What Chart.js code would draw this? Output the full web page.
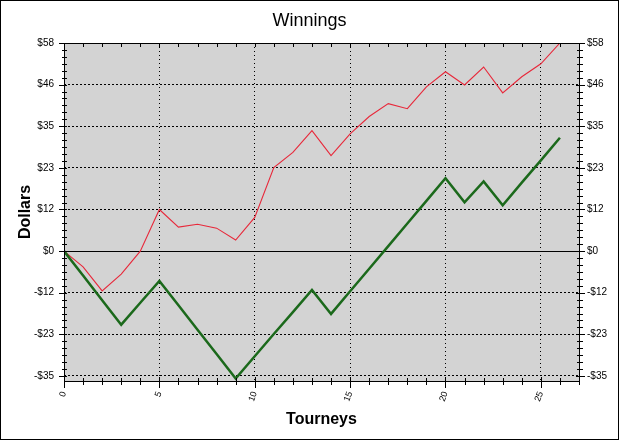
<!DOCTYPE html>
<html>
<head>
<meta charset="utf-8">
<title>Winnings</title>
<script src="https://cdn.jsdelivr.net/npm/chart.js@4/dist/chart.umd.min.js"></script>
<style>
  html, body { margin: 0; padding: 0; background: #fff; }
  canvas { display: block; }
</style>
</head>
<body>
<canvas id="chart" width="619" height="440"></canvas>
<script>
// --- Data ---
const tourneys = [0, 1, 2, 3, 4, 5, 6, 7, 8, 9, 10, 11, 12, 13, 14, 15, 16, 17, 18, 19, 20, 21, 22, 23, 24, 25, 26];
const redSeries = [0, -4.4, -11.1, -6.4, 0, 11.6, 6.7, 7.5, 6.4, 3.1, 9.4, 23.3, 27.5, 33.6, 26.6, 32.7, 37.5, 41.1, 39.7, 45.8, 50, 46.3, 51.3, 44.1, 48.6, 52.2, 58];
const greenSeries = [0, -6.8, -13.7, -20.5, -14.4, -8.3, -15.1, -21.9, -28.7, -35.5, -29.3, -23.1, -17.0, -10.8, -17.5, -11.2, -4.9, 1.4, 7.7, 14.0, 20.3, 13.6, 19.4, 12.8, 19.1, 25.3, 31.6];
const xTicks = [0, 5, 10, 15, 20, 25];
const yTicks = [-34.8, -23.2, -11.6, 0, 11.6, 23.2, 34.8, 46.4, 58];
const xMin = 0, xMax = 27, xMinorStep = 1;
const yMin = -36.2, yMax = 58, yMinorStep = 11.6 / 6;

const FONT = "'Liberation Sans', Arial, sans-serif";

function dollars(v) {
  let n = Math.abs(Math.round(v));
  return (v < 0 ? "-$" : "$") + n;
}

function crisp(p) {
  return Math.round(p) + 0.5;
}

// --- Background, frame, zero line and minor ticks ---
const framePlugin = {
  id: "frame",
  beforeDraw(chart) {
    let ctx = chart.ctx, a = chart.chartArea;
    ctx.save();
    ctx.fillStyle = "#ffffff";
    ctx.fillRect(0, 0, chart.width, chart.height);
    ctx.fillStyle = "#d3d3d3";
    ctx.fillRect(a.left, a.top, a.right - a.left, a.bottom - a.top);
    ctx.restore();
  },
  beforeDatasetsDraw(chart) {
    let ctx = chart.ctx, a = chart.chartArea;
    let y0 = crisp(chart.scales.y.getPixelForValue(0));
    ctx.save();
    ctx.strokeStyle = "#000";
    ctx.lineWidth = 1;
    ctx.beginPath();
    ctx.moveTo(a.left, y0);
    ctx.lineTo(a.right, y0);
    ctx.stroke();
    ctx.restore();
  },
  afterDraw(chart) {
    let ctx = chart.ctx, a = chart.chartArea;
    let sx = chart.scales.x, sy = chart.scales.y;
    let L = Math.round(a.left), R = Math.round(a.right), T = Math.round(a.top), B = Math.round(a.bottom);
    ctx.save();
    ctx.strokeStyle = "#000";
    ctx.lineWidth = 1;
    ctx.beginPath();
    // plot frame
    ctx.rect(L + 0.5, T + 0.5, R - L, B - T);
    // y minor + major ticks, both sides
    for (let v = yTicks[0]; v <= yMax + 0.001; v += yMinorStep) {
      let y = crisp(sy.getPixelForValue(v));
      ctx.moveTo(L - 2, y); ctx.lineTo(L + 3, y);
      ctx.moveTo(R - 2, y); ctx.lineTo(R + 4, y);
    }
    yTicks.forEach(v => {
      let y = crisp(sy.getPixelForValue(v));
      ctx.moveTo(L - 5, y); ctx.lineTo(L + 3, y);
      ctx.moveTo(R - 3, y); ctx.lineTo(R + 6, y);
    });
    // x minor + major ticks
    for (let v = xMin; v <= xMax; v += xMinorStep) {
      let x = crisp(sx.getPixelForValue(v));
      ctx.moveTo(x, B - 3); ctx.lineTo(x, B + 4);
      ctx.moveTo(x, T); ctx.lineTo(x, T + 4);
    }
    xTicks.forEach(v => {
      let x = crisp(sx.getPixelForValue(v));
      ctx.moveTo(x, B - 4); ctx.lineTo(x, B + 7);
    });
    ctx.stroke();
    // outer border
    ctx.strokeRect(0.5, 0.5, chart.width - 1, chart.height - 1);
    ctx.restore();
  }
};

let ctx = document.getElementById("chart").getContext("2d");

window.myChart = new Chart(ctx, {
  type: "line",
  data: {
    datasets: [
      {
        label: "Green",
        data: tourneys.map((t, i) => ({x: t, y: greenSeries[i]})),
        borderColor: "#1b691b",
        borderWidth: 2.5,
        pointRadius: 0,
        fill: false,
        tension: 0
      },
      {
        label: "Red",
        data: tourneys.map((t, i) => ({x: t, y: redSeries[i]})),
        borderColor: "#e8283a",
        borderWidth: 1.1,
        pointRadius: 0,
        fill: false,
        tension: 0
      }
    ]
  },
  options: {
    responsive: false,
    animation: false,
    events: [],
    layout: { padding: 0 },
    plugins: {
      legend: { display: false },
      tooltip: { enabled: false },
      title: {
        display: true,
        text: "Winnings",
        color: "#000",
        font: { family: FONT, size: 18, weight: "normal", lineHeight: 1.2 },
        padding: { top: 10, bottom: 11.4 }
      }
    },
    scales: {
      x: {
        type: "linear",
        position: "bottom",
        min: xMin,
        max: xMax,
        afterBuildTicks: s => { s.ticks = xTicks.map(v => ({value: v})); },
        afterFit: s => { s.height = 59; },
        ticks: {
          color: "#000",
          font: { family: FONT, size: 9 },
          minRotation: 70,
          maxRotation: 70,
          autoSkip: false,
          padding: 9,
          callback: v => String(v)
        },
        grid: { color: "#000", lineWidth: 1, drawTicks: false },
        border: { display: false, dash: [1, 3] },
        title: {
          display: true,
          text: "Tourneys",
          color: "#000",
          font: { family: FONT, size: 16, weight: "bold", lineHeight: 1.2 },
          padding: { top: 0, bottom: 11 }
        }
      },
      y: {
        type: "linear",
        position: "left",
        min: yMin,
        max: yMax,
        afterBuildTicks: s => { s.ticks = yTicks.map(v => ({value: v})); },
        afterFit: s => { s.width = 64; },
        ticks: {
          color: "#000",
          font: { family: FONT, size: 10 },
          padding: 10,
          callback: v => dollars(v)
        },
        grid: { color: "#000", lineWidth: 1, drawTicks: false },
        border: { display: false, dash: [2, 2] },
        title: {
          display: true,
          text: "Dollars",
          color: "#000",
          font: { family: FONT, size: 16, weight: "bold", lineHeight: 1.2 },
          padding: { top: 16, bottom: 0 }
        }
      },
      y2: {
        type: "linear",
        position: "right",
        min: yMin,
        max: yMax,
        afterBuildTicks: s => { s.ticks = yTicks.map(v => ({value: v})); },
        afterFit: s => { s.width = 40; },
        ticks: {
          color: "#000",
          font: { family: FONT, size: 10 },
          padding: 8,
          callback: v => dollars(v)
        },
        grid: { drawOnChartArea: false, drawTicks: false },
        border: { display: false }
      }
    }
  },
  plugins: [framePlugin]
});
</script>
</body>
</html>
